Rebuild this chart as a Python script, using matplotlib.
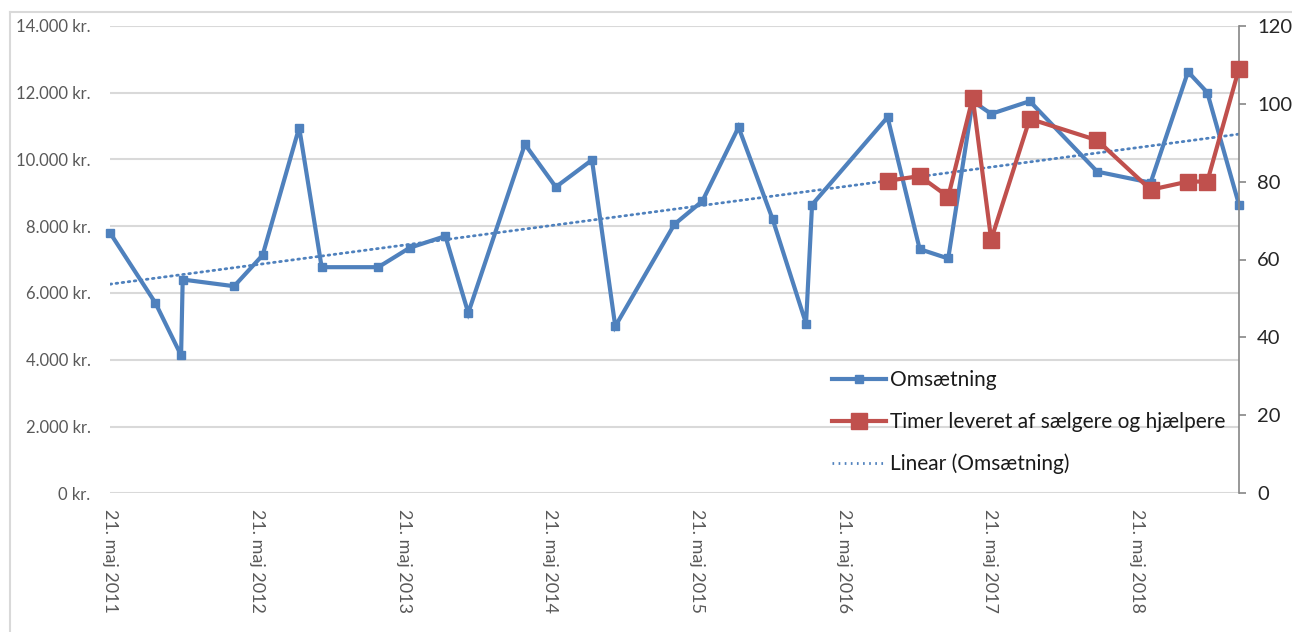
import matplotlib
matplotlib.use('Agg')
import matplotlib.pyplot as plt
import matplotlib.dates as mdates
from matplotlib.ticker import FuncFormatter
from matplotlib.lines import Line2D
import numpy as np
import pandas as pd

# ── Data ─────────────────────────────────────────────────────────────────────
oms_dates = ['2011-05-21', '2011-09-11', '2011-11-14', '2011-11-18', '2012-03-25',
             '2012-06-04', '2012-09-03', '2012-10-29', '2013-03-19', '2013-06-05',
             '2013-09-02', '2013-10-29', '2014-03-19', '2014-06-04', '2014-09-02',
             '2014-10-30', '2015-03-26', '2015-06-04', '2015-09-02', '2015-11-26',
             '2016-02-17', '2016-03-03', '2016-09-07', '2016-11-26', '2017-02-05',
             '2017-04-07', '2017-05-23', '2017-08-27', '2018-02-11', '2018-06-24',
             '2018-09-25', '2018-11-12', '2019-01-30']
oms_values = [7800, 5700, 4130, 6400, 6200,
              7130, 10950, 6770, 6770, 7350,
              7700, 5400, 10450, 9170, 9980,
              5000, 8050, 8750, 10960, 8200,
              5080, 8640, 11260, 7310, 7030,
              11740, 11360, 11740, 9630, 9300,
              12620, 12000, 8640]

timer_dates = oms_dates[-11:]
timer_values = [80.2, 81.4, 76.1, 101.5, 65.1, 96.1, 90.6, 77.9, 80.0, 80.0, 109.0]

tick_years = [2011, 2012, 2013, 2014, 2015, 2016, 2017, 2018]
tick_labels = [f'21. maj {y}' for y in tick_years]

# ── Style ─────────────────────────────────────────────────────────────────────
C_BLUE = '#4F81BD'
C_RED = '#C0504D'
C_GRID = '#D9D9D9'
C_TXT = '#595959'
FONT = ['Lato', 'DejaVu Sans']
plt.rcParams['font.family'] = FONT

W, H = 1292, 632
fig = plt.figure(figsize=(W / 100, H / 100), dpi=100)
fig.patch.set_facecolor('white')

x0, x1, y0, y1 = 110, 1239, 493.3, 25.7
ax = fig.add_axes([x0 / W, 1 - y0 / H, (x1 - x0) / W, (y0 - y1) / H])
ax2 = ax.twinx()

xd = pd.to_datetime(oms_dates)
xt = pd.to_datetime(timer_dates)

# trend line (linear fit of Omsætning)
xn = mdates.date2num(xd)
k, m = np.polyfit(xn, oms_values, 1)
trend_x = np.array([xn[0], xn[-1]])

TREND_LS = (0, (0.6, 1.6))
ax.plot(mdates.num2date(trend_x), k * trend_x + m, color=C_BLUE, lw=2,
        linestyle=TREND_LS, dash_capstyle='round', zorder=2)
ax.plot(xd, oms_values, color=C_BLUE, lw=3, marker='s', markersize=5.5,
        zorder=3, solid_joinstyle='miter', clip_on=False)
ax2.plot(xt, timer_values, color=C_RED, lw=3, marker='s', markersize=11,
         zorder=4, solid_joinstyle='miter', clip_on=False)

ax.set_ylim(0, 14000)
ax.set_yticks(np.arange(0, 14001, 2000))
ax.yaxis.set_major_formatter(FuncFormatter(
    lambda v, p: f'{int(v):,} kr.'.replace(',', '.')))
ax2.set_ylim(0, 120)
ax2.set_yticks(np.arange(0, 121, 20))

ax.set_xlim(xd[0], xd[-1])
ax.set_xticks(pd.to_datetime([f'{y}-05-21' for y in tick_years]))
ax.set_xticklabels(tick_labels, rotation=270, ha='center', va='top')

ax.grid(axis='y', color=C_GRID, lw=1.5)
ax.set_axisbelow(True)
for sp in ['left', 'top', 'bottom', 'right']:
    ax.spines[sp].set_visible(False)
for sp in ['left', 'top', 'bottom']:
    ax2.spines[sp].set_visible(False)
ax2.spines['right'].set_color('#868686')
ax2.spines['right'].set_linewidth(1.2)

ax.tick_params(axis='y', length=0, pad=14, labelsize=12, labelcolor=C_TXT)
ax.tick_params(axis='x', length=0, pad=11, labelsize=13, labelcolor=C_TXT)
ax2.tick_params(axis='y', length=5, width=1.2, color='#868686', pad=8,
                labelsize=14.5, labelcolor='#262626')

# legend
handles = [
    Line2D([], [], color=C_BLUE, lw=3, marker='s', markersize=5.5),
    Line2D([], [], color=C_RED, lw=3, marker='s', markersize=11),
    Line2D([], [], color=C_BLUE, lw=2, linestyle=TREND_LS),
]
labels = ['Omsætning', 'Timer leveret af sælgere og hjælpere', 'Linear (Omsætning)']
leg = ax2.legend(handles, labels, loc='upper left',
                 bbox_to_anchor=(832 / W, 1 - 370 / H), bbox_transform=fig.transFigure,
                 frameon=False, fontsize=15, handlelength=2.6, handletextpad=0.2,
                 labelspacing=1.05, borderpad=0, borderaxespad=0)
for t in leg.get_texts():
    t.set_color('#1a1a1a')

# outer chart border (left and top edges visible)
fig.add_artist(Line2D([9.5 / W, 9.5 / W], [0, 1 - 11.7 / H], color=C_GRID, lw=1.5))
fig.add_artist(Line2D([9.5 / W, 1.0], [1 - 11.7 / H, 1 - 11.7 / H], color=C_GRID, lw=1.5))

fig.savefig('out.png', dpi=100, facecolor='white')
